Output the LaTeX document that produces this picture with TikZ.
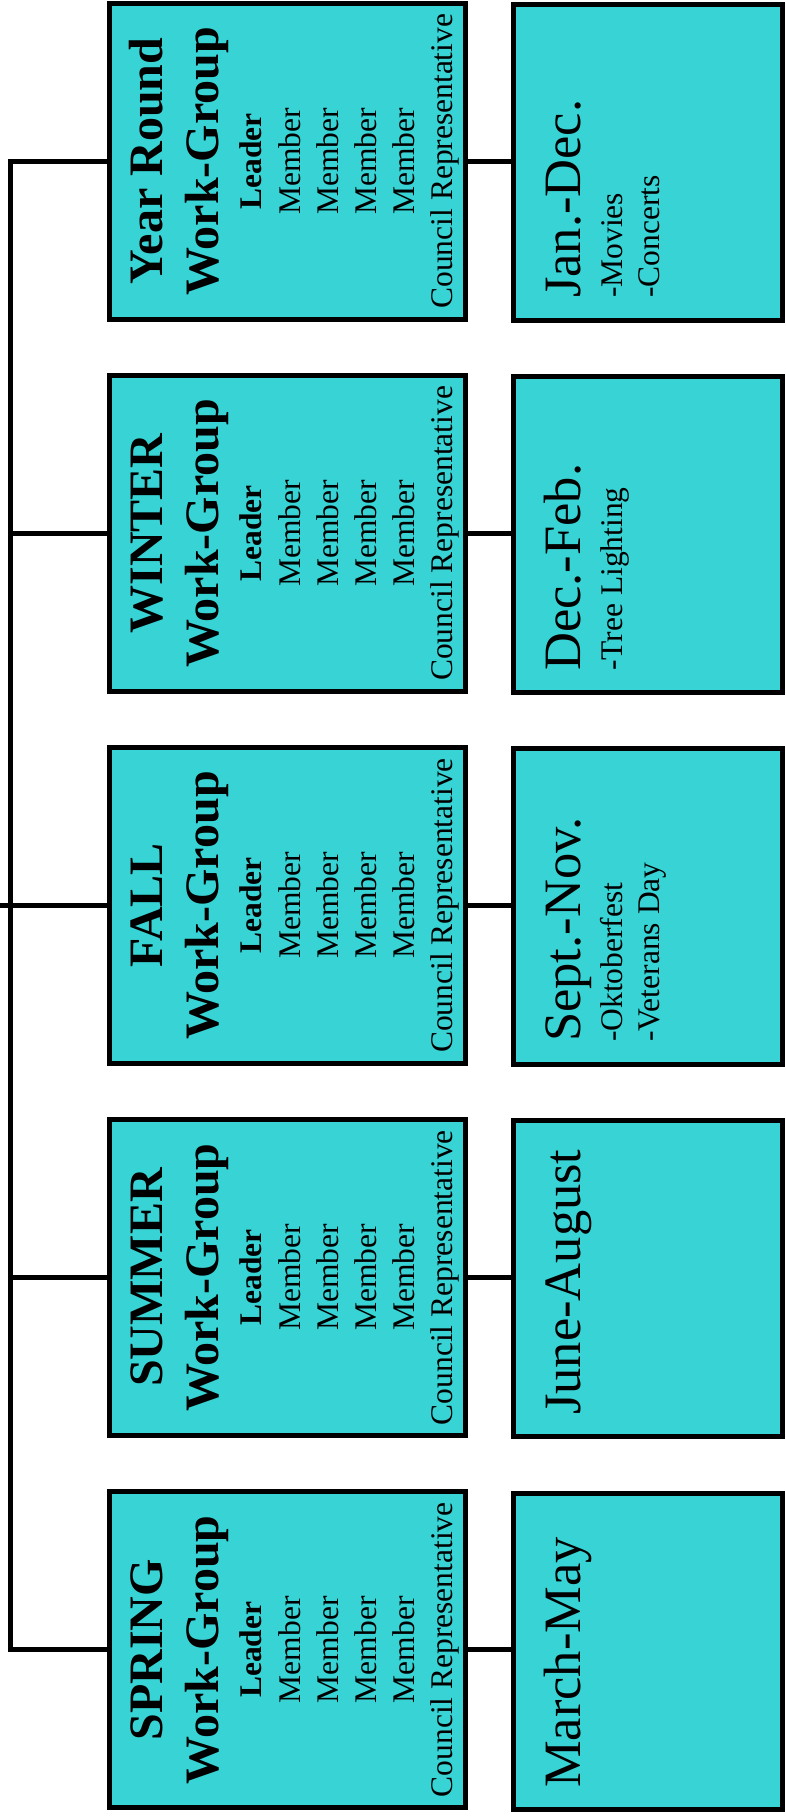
\documentclass[tikz,border=0pt]{standalone}
\usepackage{fontspec}
\setmainfont{Liberation Serif}
\definecolor{boxcyan}{RGB}{56,211,212}
\tikzset{
  lbox/.style={draw=black, line width=5pt, fill=boxcyan, inner sep=0pt, outer sep=0pt,
               minimum width=356pt, minimum height=316pt},
  rbox/.style={draw=black, line width=5pt, fill=boxcyan, inner sep=0pt, outer sep=0pt,
               minimum width=269pt, minimum height=316pt},
  conn/.style={draw=black, line width=5pt},
  ttitle/.style={rotate=90, anchor=base, inner sep=0pt, font=\fontsize{48}{48}\selectfont\bfseries},
  tlead/.style={rotate=90, anchor=base, inner sep=0pt, font=\fontsize{31.5}{31.5}\selectfont\bfseries},
  tmem/.style={rotate=90, anchor=base, inner sep=0pt, font=\fontsize{31.5}{31.5}\selectfont},
  tmonth/.style={rotate=90, anchor=base west, inner sep=0pt, font=\fontsize{52.5}{52.5}\selectfont},
  tevent/.style={rotate=90, anchor=base west, inner sep=0pt, font=\fontsize{31.5}{31.5}\selectfont},
}
\newcommand{\wgbox}[3]{%
  \node[lbox] (#1) at (287,#2) {};
  \node[ttitle] (#1-t1) at (162.5,#2) {#3};
  \node[ttitle] (#1-t2) at (218,#2) {Work-Group};
  \node[tlead] (#1-ld) at (261,#2) {Leader};
  \node[tmem] (#1-m1) at (300,#2) {Member};
  \node[tmem] (#1-m2) at (338,#2) {Member};
  \node[tmem] (#1-m3) at (376,#2) {Member};
  \node[tmem] (#1-m4) at (414,#2) {Member};
  \node[tmem] (#1-cr) at (452,#2) {Council Representative};
}
\begin{document}
\begin{tikzpicture}[x=1pt,y=-1pt]
\useasboundingbox (0,0) rectangle (785,1818);

% left column: work groups
\wgbox{gy}{161.2}{Year Round}
\wgbox{gw}{533.4}{WINTER}
\wgbox{gf}{905.5}{FALL}
\wgbox{gs}{1277.6}{SUMMER}
\wgbox{gp}{1649.8}{SPRING}

% right column: months
\node[rbox] (my) at (648,162.5) {};
\node[rbox] (mw) at (648,534.7) {};
\node[rbox] (mf) at (648,906.8) {};
\node[rbox] (ms) at (648,1278.9) {};
\node[rbox] (mp) at (648,1651.1) {};

\node[tmonth] (my-t) at (580,298) {Jan.-Dec.};
\node[tevent] (my-e1) at (622.5,298) {-Movies};
\node[tevent] (my-e2) at (659,298) {-Concerts};

\node[tmonth] (mw-t) at (580,671) {Dec.-Feb.};
\node[tevent] (mw-e1) at (622.5,671) {-Tree Lighting};

\node[tmonth] (mf-t) at (580,1042) {Sept.-Nov.};
\node[tevent] (mf-e1) at (622.5,1042) {-Oktoberfest};
\node[tevent] (mf-e2) at (659,1042) {-Veterans Day};

\node[tmonth] (ms-t) at (580,1415) {June-August};

\node[tmonth] (mp-t) at (580,1788) {March-May};

% spine connectors
\coordinate (spine) at (10,0);
\coordinate (root) at (0,905.5);
\draw[conn] (gy.west) -- (gy.west -| spine) |- (gp.west);
\draw[conn] (gw.west) -- (gw.west -| spine);
\draw[conn] (gs.west) -- (gs.west -| spine);
\draw[conn] (root) -- (gf.west);

% group to month connectors
\draw[conn] (gy.east) -- (gy.east -| my.west);
\draw[conn] (gw.east) -- (gw.east -| mw.west);
\draw[conn] (gf.east) -- (gf.east -| mf.west);
\draw[conn] (gs.east) -- (gs.east -| ms.west);
\draw[conn] (gp.east) -- (gp.east -| mp.west);
\end{tikzpicture}
\end{document}
